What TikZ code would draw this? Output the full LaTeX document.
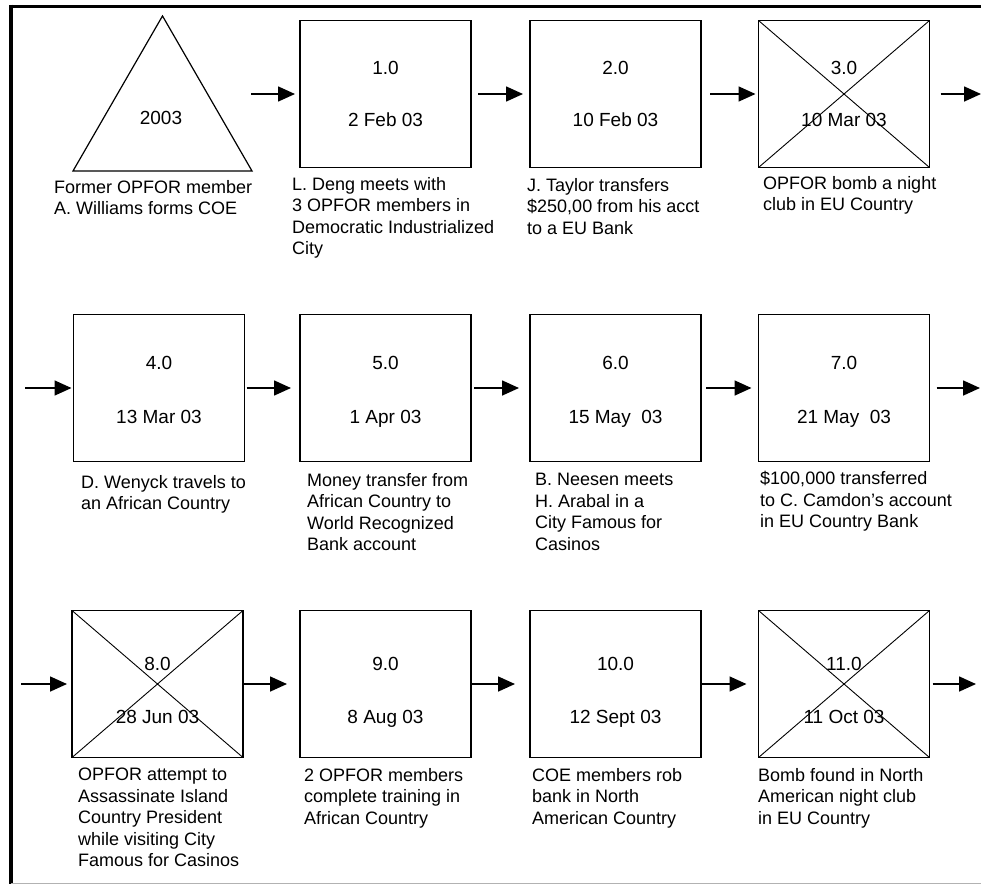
\documentclass[tikz,border=0pt]{standalone}
\usepackage{fontspec}
\setmainfont{Liberation Sans}
\usetikzlibrary{arrows.meta,shapes.geometric}
\tikzset{
  evbox/.style={draw, line width=1.5pt, minimum width=171pt, minimum height=147pt, inner sep=0pt, outer sep=0pt},
  boxtxt/.style={font=\fontsize{19}{22}\selectfont, anchor=base, inner sep=0pt},
  lbl/.style={font=\fontsize{18}{21.5}\selectfont, align=left, anchor=north west, inner sep=0pt},
  arr/.style={line width=1.6pt, -{Triangle[length=17pt,width=15pt]}},
  xline/.style={line width=0.9pt},
  frameline/.style={line width=3.5pt}
}
\newcommand\evt[7]{%
  \node[evbox] (#1) at (#2,#3) {};
  \node[boxtxt] (#1n) at ([yshift=#6]#1.center) {#4};
  \node[boxtxt] (#1d) at ([yshift=#7]#1.center) {#5};
}
\begin{document}
\begin{tikzpicture}[x=1pt,y=-1pt]
\useasboundingbox (0,0) rectangle (981,884);
% frame
\draw[frameline] (11,4.5) -- (11,884);
\draw[frameline] (9.25,6.25) -- (981,6.25);
\draw[gray!60, line width=1pt] (11,883) -- (981,883);

% triangle
\node[draw, regular polygon, regular polygon sides=3, minimum size=206.7pt, inner sep=0pt, outer sep=0pt, line width=1.2pt] (t0) at (162.5,119.3) {};
\node[boxtxt] (t0n) at (161,124) {2003};

% row 1
\evt{b1}{385.5}{94}{1.0}{2 Feb 03}{20pt}{-32pt}
\evt{b2}{615.5}{94}{2.0}{10 Feb 03}{20pt}{-32pt}
\evt{b3}{844}{94}{3.0}{10 Mar 03}{20pt}{-32pt}
% row 2
\evt{b4}{159}{388}{4.0}{13 Mar 03}{19pt}{-35pt}
\evt{b5}{385.5}{388}{5.0}{1 Apr 03}{19pt}{-35pt}
\evt{b6}{615.5}{388}{6.0}{15 May\ \ 03}{19pt}{-35pt}
\evt{b7}{844}{388}{7.0}{21 May\ \ 03}{19pt}{-35pt}
% row 3
\evt{b8}{157.5}{684}{8.0}{28 Jun 03}{14pt}{-39pt}
\evt{b9}{385.5}{684}{9.0}{8 Aug 03}{14pt}{-39pt}
\evt{b10}{615.5}{684}{10.0}{12 Sept 03}{14pt}{-39pt}
\evt{b11}{844}{684}{11.0}{11 Oct 03}{14pt}{-39pt}

% crosses
\foreach \b in {b3,b8,b11}{
  \draw[xline] (\b.north west) -- (\b.south east) (\b.south west) -- (\b.north east);
}

% arrow free ends
\coordinate (s0) at (251,94);
\coordinate (e1) at (981,94);
\coordinate (s2) at (25,388);
\coordinate (e2) at (980,388);
\coordinate (s3) at (21,684);
\coordinate (e3) at (976,684);

% arrows row 1
\draw[arr] (s0) -- ([xshift=-5pt]b1.west);
\draw[arr] ([xshift=7pt]b1.east) -- ([xshift=-7pt]b2.west);
\draw[arr] ([xshift=9pt]b2.east) -- ([xshift=-3pt]b3.west);
\draw[arr] ([xshift=11pt]b3.east) -- (e1);
% arrows row 2
\draw[arr] (s2) -- ([xshift=-2pt]b4.west);
\draw[arr] ([xshift=2pt]b4.east) -- ([xshift=-9pt]b5.west);
\draw[arr] ([xshift=3pt]b5.east) -- ([xshift=-11pt]b6.west);
\draw[arr] ([xshift=5pt]b6.east) -- ([xshift=-7pt]b7.west);
\draw[arr] ([xshift=7pt]b7.east) -- (e2);
% arrows row 3
\draw[arr] (s3) -- ([xshift=-5pt]b8.west);
\draw[arr] (b8.east) -- ([xshift=-13pt]b9.west);
\draw[arr] (b9.east) -- ([xshift=-15pt]b10.west);
\draw[arr] (b10.east) -- ([xshift=-12pt]b11.west);
\draw[arr] ([xshift=3pt]b11.east) -- (e3);

% labels
\node[lbl] (l0) at (54,180) {Former OPFOR member\\A. Williams forms COE};
\node[lbl] (l1) at (292,177) {L. Deng meets with\\3 OPFOR members in\\Democratic Industrialized\\City};
\node[lbl] (l2) at (527,178) {J. Taylor transfers\\\$250,00 from his acct\\to a EU Bank};
\node[lbl] (l3) at (763,176) {OPFOR bomb a night\\club in EU Country};
\node[lbl] (l4) at (81,475) {D. Wenyck travels to\\an African Country};
\node[lbl] (l5) at (307,473) {Money transfer from\\African Country to\\World Recognized\\Bank account};
\node[lbl] (l6) at (535,473) {B. Neesen meets\\H. Arabal in a\\City Famous for\\Casinos};
\node[lbl] (l7) at (760,471) {\$100,000 transferred\\to C. Camdon's account\\in EU Country Bank};
\node[lbl] (l8) at (78,768) {OPFOR attempt to\\Assassinate Island\\Country President\\while visiting City\\Famous for Casinos};
\node[lbl] (l9) at (304,768) {2 OPFOR members\\complete training in\\African Country};
\node[lbl] (l10) at (532,768) {COE members rob\\bank in North\\American Country};
\node[lbl] (l11) at (758,768) {Bomb found in North\\American night club\\in EU Country};
\end{tikzpicture}
\end{document}
